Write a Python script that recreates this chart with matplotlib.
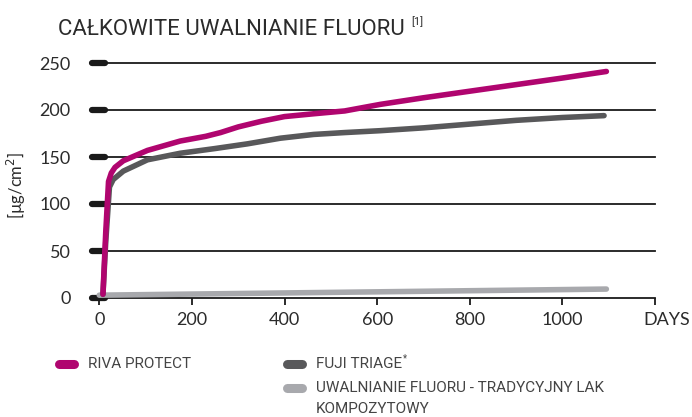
import matplotlib.pyplot as plt
from matplotlib.lines import Line2D

# data (days, ug/cm2)
riva_days = [8, 14, 20, 26, 34, 52, 104, 175, 230, 262, 300, 350, 400, 463, 530, 607, 700, 800, 900, 1000, 1095]
riva_vals = [4, 70, 124, 133, 139, 146, 157, 167, 172, 176, 182, 188, 193, 196, 199, 206, 213, 220, 227, 234, 241]

fuji_days = [8, 14, 22, 30, 52, 104, 175, 250, 320, 391, 463, 530, 607, 700, 800, 900, 1000, 1090]
fuji_vals = [4, 60, 118, 126, 135, 147, 154, 159, 164, 170, 174, 176, 178, 181, 185, 189, 192, 194]

lak_days = [0, 1095]
lak_vals = [3, 9.5]

y_ticks = [0, 50, 100, 150, 200, 250]
x_ticks = [0, 200, 400, 600, 800, 1000, 1200]
x_labels = ["0", "200", "400", "600", "800", "1000", ""]

RIVA = "#B0056F"
FUJI = "#58585A"
LAK = "#A8A9AD"
TXT = "#2b2b2b"

num_font = "Lato"
cond_font = "Roboto"

fig = plt.figure(figsize=(6.92, 4.17), dpi=100)
ax = fig.add_axes([90 / 692, 1 - 298 / 417, 565 / 692, 239.7 / 417])
ax.set_xlim(-20, 1200)
ax.set_ylim(0, 255)
for s in ax.spines.values():
    s.set_visible(False)

# gridlines + thick stubs on the left
for v in y_ticks:
    ax.plot([-20, 1200], [v, v], color="#1a1a1a", lw=1.3, zorder=1, clip_on=False)
    ax.plot([-15, 12], [v, v], color="#1a1a1a", lw=4.5, solid_capstyle="round",
            zorder=2, clip_on=False)

ax.set_yticks(y_ticks)
ax.set_yticklabels([str(v) for v in y_ticks], fontsize=13, family=num_font, color=TXT)
ax.tick_params(axis="y", length=0, pad=14)

ax.set_xticks(x_ticks)
ax.set_xticklabels(x_labels, fontsize=13, family=num_font, color=TXT)
ax.tick_params(axis="x", length=5, width=1.3, color="#1a1a1a", pad=5)

ax.plot(lak_days, lak_vals, color=LAK, lw=4, solid_capstyle="round", zorder=3, clip_on=False)
ax.plot(fuji_days, fuji_vals, color=FUJI, lw=4, solid_capstyle="round", zorder=4, clip_on=False)
ax.plot(riva_days, riva_vals, color=RIVA, lw=4, solid_capstyle="round",
        solid_joinstyle="round", zorder=5, clip_on=False)

ax.annotate("DAYS", xy=(1174, 0), xytext=(0, -10), textcoords="offset points",
            fontsize=13, family=num_font, color=TXT, ha="left", va="top",
            annotation_clip=False)

ax.set_ylabel("[µg/cm$^2$]", fontsize=12, family=num_font, color=TXT)
ax.yaxis.set_label_coords(-0.11, 0.47)

# title
title = fig.text(58 / 692, 1 - 35 / 417, "CAŁKOWITE UWALNIANIE FLUORU", fontsize=16,
                 family=cond_font, color=TXT, va="baseline")
leg_kw = dict(fontsize=11, family=cond_font, color="#444444", va="center")
fig.text(88 / 692, 1 - 364 / 417, "RIVA PROTECT", **leg_kw)
fuji_txt = fig.text(316 / 692, 1 - 364 / 417, "FUJI TRIAGE", **leg_kw)
fig.text(316 / 692, 1 - 388 / 417, "UWALNIANIE FLUORU - TRADYCYJNY LAK", **leg_kw)
fig.text(316 / 692, 1 - 409 / 417, "KOMPOZYTOWY", **leg_kw)

# superscripts placed right after their texts
fig.canvas.draw()
r = fig.canvas.get_renderer()
tb = title.get_window_extent(r)
fig.text((tb.x1 + 6) / 692, 1 - 25 / 417, "[1]", fontsize=8, family=cond_font,
         color=TXT, va="baseline")
fb = fuji_txt.get_window_extent(r)
fig.text((fb.x1 + 1) / 692, 1 - 358 / 417, "*", fontsize=7, family=cond_font,
         color="#444444", va="center")

# legend swatches
def swatch(x0, x1, y, c):
    fig.add_artist(Line2D([x0 / 692, x1 / 692], [1 - y / 417, 1 - y / 417], color=c,
                          lw=6.5, solid_capstyle="round"))

swatch(59, 74, 364, RIVA)
swatch(287, 302, 364, FUJI)
swatch(287, 302, 388, LAK)

fig.savefig("out.png", dpi=100)
